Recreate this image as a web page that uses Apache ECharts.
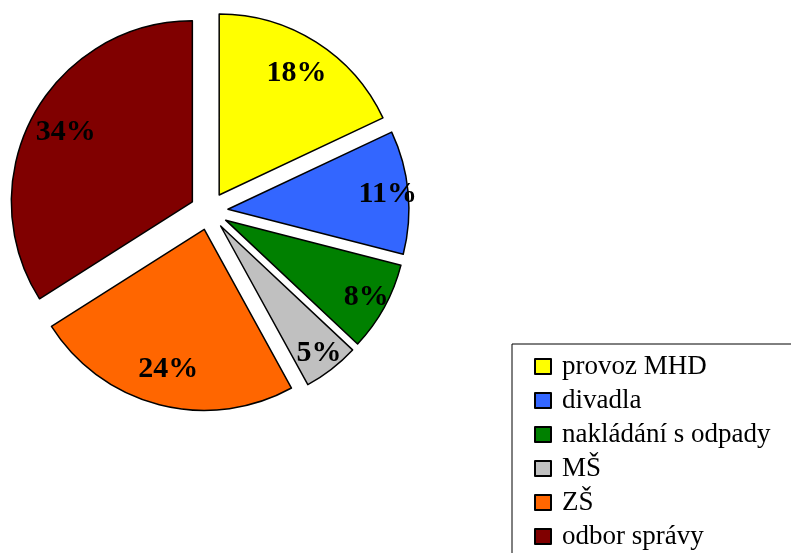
<!DOCTYPE html>
<html>
<head>
<meta charset="utf-8">
<script src="https://cdn.jsdelivr.net/npm/echarts@6/dist/echarts.min.js"></script>
<style>
  html, body { margin: 0; padding: 0; background: #fff; }
  #chart { width: 791px; height: 553px; }
</style>
</head>
<body>
<div id="chart"></div>
<script>
// categories and shares (percent)
const categories = ['provoz MHD', 'divadla', 'nakládání s odpady', 'MŠ', 'ZŠ', 'odbor správy'];
const shares = [18, 11, 8, 5, 24, 34];
const colors = ['#ffff00', '#3366ff', '#008000', '#c0c0c0', '#ff6600', '#800000'];

const serif = '"Liberation Serif", "Times New Roman", serif';

// every slice is pulled out a little
const pieData = categories.map((name, i) => ({
    name: name,
    value: shares[i],
    selected: true,
    itemStyle: { color: colors[i] }
}));

// transparent ring that only carries the labels (big or small slices)
function labelRing(radius, test) {
    return {
        type: 'pie',
        center: [209, 211],
        radius: radius,
        startAngle: 90,
        clockwise: true,
        silent: true,
        selectedMode: 'multiple',
        selectedOffset: 19,
        avoidLabelOverlap: false,
        itemStyle: { color: 'transparent', borderWidth: 0 },
        emphasis: { disabled: true },
        select: { itemStyle: { color: 'transparent', borderWidth: 0 } },
        labelLine: { show: false },
        label: {
            show: true,
            position: 'inside',
            formatter: p => test(p.value) ? p.value + '%' : '',
            fontFamily: serif,
            fontWeight: 'bold',
            fontSize: 30,
            color: '#000'
        },
        data: categories.map((name, i) => ({ name: name, value: shares[i], selected: true }))
    };
}

const chart = echarts.init(document.getElementById('chart'));

const option = {
    backgroundColor: '#fff',
    animation: false,
    legend: {
        orient: 'vertical',
        left: 512,
        top: 344,
        width: 400,
        height: 400,
        padding: [9, 40, 40, 22],
        itemGap: 7,
        itemWidth: 16,
        itemHeight: 15,
        icon: 'rect',
        borderColor: '#000',
        borderWidth: 1,
        backgroundColor: '#fff',
        selectedMode: false,
        data: categories,
        textStyle: {
            fontFamily: serif,
            fontSize: 27,
            lineHeight: 26,
            color: '#000',
            padding: [0, 0, 0, 6]
        }
    },
    series: [
        {
            // visible pie
            type: 'pie',
            center: [209, 211],
            radius: 181,
            startAngle: 90,
            clockwise: true,
            selectedMode: 'multiple',
            selectedOffset: 19,
            avoidLabelOverlap: false,
            label: { show: false },
            labelLine: { show: false },
            itemStyle: { borderColor: '#000', borderWidth: 1.5 },
            emphasis: { disabled: true },
            select: { itemStyle: { borderColor: '#000', borderWidth: 1.5 } },
            data: pieData
        },
        labelRing([102, 181], v => v >= 15),
        labelRing([134, 181], v => v < 15)
    ]
};

chart.setOption(option);
</script>
</body>
</html>
